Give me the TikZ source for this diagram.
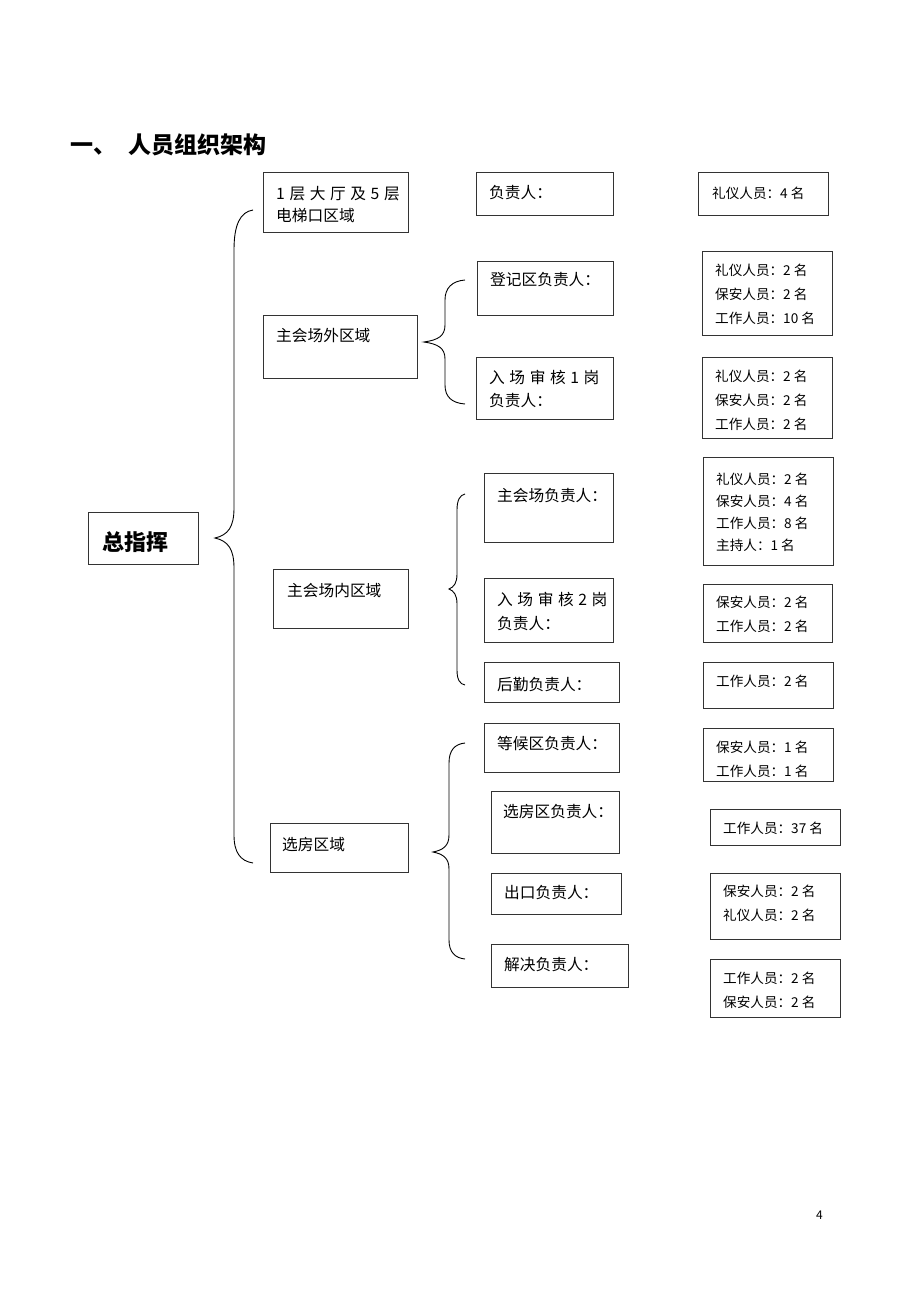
\documentclass[tikz,border=0pt]{standalone}
\usepackage{fontspec}
\setmainfont{Noto Sans CJK SC}
\usetikzlibrary{fit}
\newcommand\gp{\hspace{4.6pt}}
\newcommand\bx[5]{\node[box, fit={(#2,#3)(#4,#5)}] (#1) {};}
\tikzset{
  box/.style={draw=black!80, line width=0.9pt, inner sep=0pt},
  lt/.style={inner sep=0pt, anchor=north west, align=left, font=\fontsize{15.7}{23}\selectfont},
  rt/.style={inner sep=0pt, anchor=north west, align=left, font=\fontsize{13.6}{24}\selectfont},
  brc/.style={draw=black, line width=0.9pt},
}
\begin{document}
\begin{tikzpicture}[x=1pt,y=-1pt]
\useasboundingbox[fill=white] (0,0) rectangle (920,1302);
% title
\node[inner sep=0pt, anchor=north west, font=\fontsize{23}{23}\selectfont\bfseries] (title) at (70,133) {一、\hspace{12pt}人员组织架构};
% root
\bx{root}{88}{512}{198}{564}
\node[inner sep=0pt, anchor=north west, font=\fontsize{22}{22}\selectfont\bfseries] (roott) at (102,531) {总指挥};
% level 1
\bx{a1}{263}{172}{408}{232}
\node[lt, font=\fontsize{15.7}{22}\selectfont] (a1t) at (276,186) {1\gp 层\gp 大\gp 厅\gp 及\gp 5\gp 层\\电梯口区域};
\bx{a2}{263}{315}{417}{378}
\node[lt] (a2t) at (276,328) {主会场外区域};
\bx{a3}{273}{569}{408}{628}
\node[lt] (a3t) at (287,583) {主会场内区域};
\bx{a4}{270}{823}{408}{872}
\node[lt] (a4t) at (282,837) {选房区域};
% level 2
\bx{b1}{476}{172}{613}{215}
\node[lt] (b1t) at (489,185) {负责人：};
\bx{b2}{477}{261}{613}{315}
\node[lt] (b2t) at (490,272) {登记区负责人：};
\bx{b3}{476}{357}{613}{419}
\node[lt] (b3t) at (489,370) {入\gp 场\gp 审\gp 核\gp 1\gp 岗\\负责人：};
\bx{b4}{484}{473}{613}{542}
\node[lt] (b4t) at (497,488) {主会场负责人：};
\bx{b5}{484}{578}{613}{642}
\node[lt, font=\fontsize{15.7}{24}\selectfont] (b5t) at (497,592) {入\gp 场\gp 审\gp 核\gp 2\gp 岗\\负责人：};
\bx{b6}{484}{662}{619}{702}
\node[lt] (b6t) at (497,677) {后勤负责人：};
\bx{b7}{484}{723}{619}{772}
\node[lt] (b7t) at (497,736) {等候区负责人：};
\bx{b8}{491}{791}{619}{853}
\node[lt] (b8t) at (503,804) {选房区负责人：};
\bx{b9}{491}{873}{621}{914}
\node[lt] (b9t) at (504,885) {出口负责人：};
\bx{b10}{491}{944}{628}{987}
\node[lt] (b10t) at (504,957) {解决负责人：};
% level 3
\bx{c1}{698}{172}{828}{215}
\node[rt] (c1t) at (712,187) {礼仪人员：4 名};
\bx{c2}{702}{251}{832}{335}
\node[rt] (c2t) at (715,264) {礼仪人员：2 名\\保安人员：2 名\\工作人员：10 名};
\bx{c3}{702}{357}{832}{438}
\node[rt] (c3t) at (715,370) {礼仪人员：2 名\\保安人员：2 名\\工作人员：2 名};
\bx{c4}{703}{457}{833}{565}
\node[rt, font=\fontsize{13.6}{22}\selectfont] (c4t) at (716,473) {礼仪人员：2 名\\保安人员：4 名\\工作人员：8 名\\主持人：1 名};
\bx{c5}{703}{584}{832}{642}
\node[rt] (c5t) at (716,596) {保安人员：2 名\\工作人员：2 名};
\bx{c6}{703}{662}{833}{708}
\node[rt] (c6t) at (716,675) {工作人员：2 名};
\bx{c7}{703}{728}{833}{781}
\node[rt] (c7t) at (716,741) {保安人员：1 名\\工作人员：1 名};
\bx{c8}{710}{809}{840}{845}
\node[rt] (c8t) at (723,822) {工作人员：37 名};
\bx{c9}{710}{873}{840}{939}
\node[rt] (c9t) at (723,885) {保安人员：2 名\\礼仪人员：2 名};
\bx{c10}{710}{959}{840}{1017}
\node[rt] (c10t) at (723,972) {工作人员：2 名\\保安人员：2 名};
% braces
\draw[brc] (253,210) .. controls (240,212) and (234,225) .. (234,250) -- (234,508)
  .. controls (234,527) and (228,535) .. (215,538)
  .. controls (228,541) and (234,549) .. (234,568) -- (234,835)
  .. controls (234,852) and (240,861) .. (253,863);
\draw[brc] (465,280) .. controls (452,281) and (445,288) .. (445,300) -- (445,325)
  .. controls (445,336) and (438,340) .. (424,342)
  .. controls (438,344) and (445,348) .. (445,359) -- (445,385)
  .. controls (445,397) and (452,403) .. (465,404);
\draw[brc] (465,494) .. controls (460,495) and (457,500) .. (457,510) -- (457,574)
  .. controls (457,583) and (454,587) .. (449,589)
  .. controls (454,591) and (457,595) .. (457,604) -- (457,670)
  .. controls (457,680) and (460,684) .. (465,685);
\draw[brc] (465,743) .. controls (455,744) and (449,750) .. (449,763) -- (449,835)
  .. controls (449,846) and (443,850) .. (433,852)
  .. controls (443,854) and (449,858) .. (449,869) -- (449,940)
  .. controls (449,952) and (455,958) .. (465,959);
% page number
\node[inner sep=0pt, anchor=north west, font=\fontsize{12}{12}\selectfont] (pg) at (816,1211) {4};
\end{tikzpicture}
\end{document}
